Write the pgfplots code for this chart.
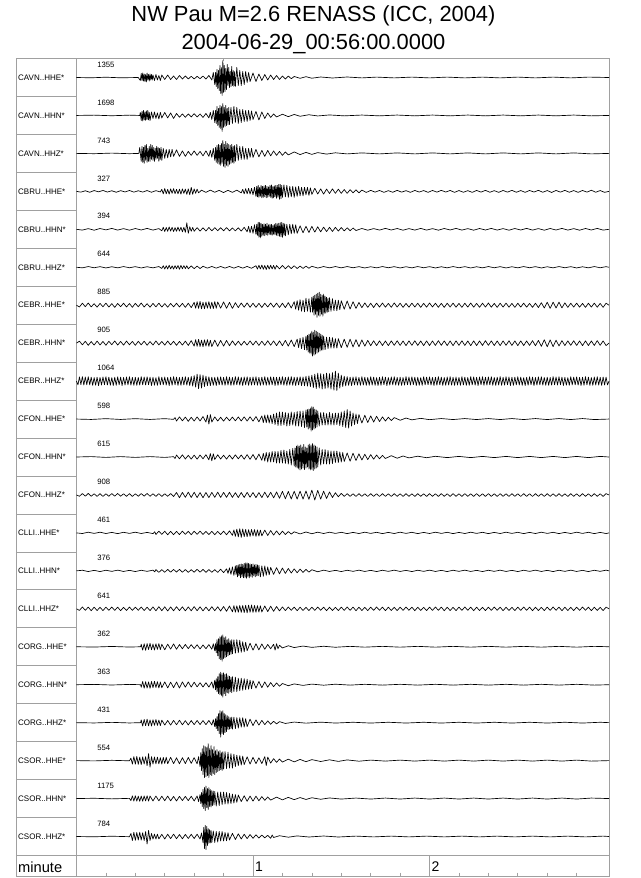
\documentclass[border=0pt]{standalone}
\usepackage{pgfplots}
\pgfplotsset{compat=1.18}
\usepackage{fontspec}
\setmainfont{Liberation Sans}
\definecolor{framegray}{RGB}{160,160,160}
\tikzset{tr/.style={black,line width=0.5pt,mark=none,line join=round}}
\newcommand{\lab}[3]{\node[anchor=west,inner sep=0pt,font=\fontsize{6}{7}\selectfont] at (axis cs:-19.9,#1) {#2};
\node[anchor=west,inner sep=0pt,font=\fontsize{5.8}{7}\selectfont] at (axis cs:7,#1-13) {#3};}
\begin{document}
\begin{tikzpicture}
\useasboundingbox (-12pt,-0.975pt) rectangle (468pt,657.525pt);
\node[anchor=base,font=\fontsize{16.4}{19}\selectfont] at (223.1pt,641.4pt) {NW Pau M=2.6 RENASS (ICC, 2004)};
\node[anchor=base,font=\fontsize{16.4}{19}\selectfont] at (223.1pt,620.4pt) {2004-06-29\_00:56:00.0000};
\begin{axis}[at={(0,0)},anchor=south west,scale only axis,width=444.75pt,height=613.65pt,
xmin=-20.56,xmax=181,ymin=58.5,ymax=876.7,y dir=reverse,enlargelimits=false,
xtick=\empty,ytick=\empty,axis line style={draw=framegray,line width=0.5pt},clip=false]
% frame decorations
\draw[framegray,line width=0.5pt] (axis cs:0,58.5) -- (axis cs:0,876.7);
\draw[framegray,line width=0.5pt] (axis cs:-20.56,855.45) -- (axis cs:181,855.45);
\draw[framegray,line width=0.5pt]
 (axis cs:-20.56,96.45) -- (axis cs:0,96.45) (axis cs:-20.56,134.4) -- (axis cs:0,134.4)
 (axis cs:-20.56,172.35) -- (axis cs:0,172.35) (axis cs:-20.56,210.3) -- (axis cs:0,210.3)
 (axis cs:-20.56,248.25) -- (axis cs:0,248.25) (axis cs:-20.56,286.2) -- (axis cs:0,286.2)
 (axis cs:-20.56,324.15) -- (axis cs:0,324.15) (axis cs:-20.56,362.1) -- (axis cs:0,362.1)
 (axis cs:-20.56,400.05) -- (axis cs:0,400.05) (axis cs:-20.56,438) -- (axis cs:0,438)
 (axis cs:-20.56,475.95) -- (axis cs:0,475.95) (axis cs:-20.56,513.9) -- (axis cs:0,513.9)
 (axis cs:-20.56,551.85) -- (axis cs:0,551.85) (axis cs:-20.56,589.8) -- (axis cs:0,589.8)
 (axis cs:-20.56,627.75) -- (axis cs:0,627.75) (axis cs:-20.56,665.7) -- (axis cs:0,665.7)
 (axis cs:-20.56,703.65) -- (axis cs:0,703.65) (axis cs:-20.56,741.6) -- (axis cs:0,741.6)
 (axis cs:-20.56,779.55) -- (axis cs:0,779.55) (axis cs:-20.56,817.5) -- (axis cs:0,817.5);
\draw[framegray,line width=0.5pt] (axis cs:50,58.5) -- (axis cs:50,61.5);
\draw[framegray,line width=0.5pt] (axis cs:60,855.45) -- (axis cs:60,876.7) (axis cs:120,855.45) -- (axis cs:120,876.7)
 (axis cs:10,872.7) -- (axis cs:10,876.7) (axis cs:20,872.7) -- (axis cs:20,876.7) (axis cs:30,872.7) -- (axis cs:30,876.7)
 (axis cs:40,872.7) -- (axis cs:40,876.7) (axis cs:50,872.7) -- (axis cs:50,876.7) (axis cs:70,872.7) -- (axis cs:70,876.7)
 (axis cs:80,872.7) -- (axis cs:80,876.7) (axis cs:90,872.7) -- (axis cs:90,876.7) (axis cs:100,872.7) -- (axis cs:100,876.7)
 (axis cs:110,872.7) -- (axis cs:110,876.7) (axis cs:130,872.7) -- (axis cs:130,876.7) (axis cs:140,872.7) -- (axis cs:140,876.7)
 (axis cs:150,872.7) -- (axis cs:150,876.7) (axis cs:160,872.7) -- (axis cs:160,876.7) (axis cs:170,872.7) -- (axis cs:170,876.7);
\node[anchor=west,inner sep=0pt,font=\fontsize{11}{13}\selectfont] at (axis cs:-19.9,867) {minute};
\node[anchor=west,inner sep=0pt,font=\fontsize{10.5}{12}\selectfont] at (axis cs:60.6,866.5) {1};
\node[anchor=west,inner sep=0pt,font=\fontsize{10.5}{12}\selectfont] at (axis cs:120.6,866.5) {2};
% labels
\lab{77.5}{CAVN..HHE*}{1355}
\lab{115.45}{CAVN..HHN*}{1698}
\lab{153.4}{CAVN..HHZ*}{743}
\lab{191.35}{CBRU..HHE*}{327}
\lab{229.3}{CBRU..HHN*}{394}
\lab{267.25}{CBRU..HHZ*}{644}
\lab{305.2}{CEBR..HHE*}{885}
\lab{343.15}{CEBR..HHN*}{905}
\lab{381.1}{CEBR..HHZ*}{1064}
\lab{419.05}{CFON..HHE*}{598}
\lab{457}{CFON..HHN*}{615}
\lab{494.95}{CFON..HHZ*}{908}
\lab{532.9}{CLLI..HHE*}{461}
\lab{570.85}{CLLI..HHN*}{376}
\lab{608.8}{CLLI..HHZ*}{641}
\lab{646.75}{CORG..HHE*}{362}
\lab{684.7}{CORG..HHN*}{363}
\lab{722.65}{CORG..HHZ*}{431}
\lab{760.6}{CSOR..HHE*}{554}
\lab{798.55}{CSOR..HHN*}{1175}
\lab{836.5}{CSOR..HHZ*}{784}
% T1 CAVN HHE
\addplot[tr] table[row sep=\\,y expr=\thisrow{y}+77.5]{x y\\ 0 0\\ 5 0.3\\ 10 -0.3\\ 15 0.3\\ 21 0\\ 21.7 3\\ 22 -4\\ 22.25 3\\ 22.5 -4.5\\ 22.75 3.5\\ 23 -3.5\\ 23.25 4\\ 23.5 -3\\ 23.75 4.5\\ 24 -4.5\\ 24.25 2.5\\ 24.5 -3\\ 24.75 3.5\\ 25 -3.5\\ 25.25 2.5\\ 25.5 -3\\ 25.75 2.5\\ 26 -2.5\\ 26.5 3\\ 27 -3\\ 27.5 2.5\\ 28 -2\\ 28.5 3\\ 29 -2.5\\ 30 2\\ 31 -2.5\\ 32 2\\ 33 -1.5\\ 34 2\\ 35 -2\\ 36 1.5\\ 37 -1.5\\ 38 1.5\\ 39 -1.2\\ 40 1.5\\ 41 -1.2\\ 42 1.2\\ 43 -1.5\\ 44 1.5\\ 45 -2\\ 46 2.5\\ 46.5 -5\\ 47 7\\ 47.25 -5\\ 47.5 9\\ 47.75 -8\\ 48 11\\ 48.25 -7\\ 48.5 13\\ 48.75 -12\\ 49 16\\ 49.25 -10\\ 49.5 18\\ 49.75 -17\\ 50 15\\ 50.25 -12\\ 50.5 14\\ 50.75 -9\\ 51 12\\ 51.25 -13\\ 51.5 8\\ 51.75 -10\\ 52 10\\ 52.25 -6\\ 52.5 9\\ 52.75 -11\\ 53 8\\ 53.25 -7\\ 53.5 9\\ 53.75 -6\\ 54 9\\ 54.5 -10\\ 55 8\\ 55.5 -7\\ 56 8\\ 56.5 -6\\ 57 7\\ 57.5 -6\\ 58 5\\ 58.5 -5\\ 59 4\\ 60 -4.5\\ 61 4\\ 62 -3.5\\ 63 3\\ 64 -3\\ 65 2.5\\ 66 -2.5\\ 67 2\\ 68 -2\\ 69 2\\ 70 -1.5\\ 71 1.5\\ 72 -1.5\\ 73 1.2\\ 74 -1\\ 76 0.8\\ 78 -0.8\\ 80 0.7\\ 83 -0.5\\ 87 0.5\\ 92 -0.5\\ 97 0.4\\ 102 -0.4\\ 108 0.4\\ 114 -0.4\\ 120 0.4\\ 126 -0.4\\ 132 0.4\\ 138 -0.4\\ 144 0.4\\ 150 -0.4\\ 156 0.4\\ 162 -0.4\\ 168 0.4\\ 174 -0.4\\ 181 0\\};
% T2 CAVN HHN
\addplot[tr] table[row sep=\\,y expr=\thisrow{y}+115.45]{x y\\ 0 0\\ 6 -0.3\\ 12 0.3\\ 18 -0.3\\ 21.5 0\\ 21.7 -3\\ 22 5\\ 22.25 -4\\ 22.5 5.5\\ 22.75 -5\\ 23 4.5\\ 23.25 -3.5\\ 23.5 5\\ 23.75 -4.5\\ 24 4\\ 24.25 -5\\ 24.5 4.5\\ 24.75 -3\\ 25 5\\ 25.5 -3.5\\ 26 3\\ 26.5 -3.5\\ 27 3\\ 27.5 -2.5\\ 28 3.5\\ 28.5 -3\\ 29 2.5\\ 30 -3\\ 31 2.5\\ 32 -2.5\\ 33 3\\ 34 -2\\ 35 1.8\\ 36 -1.5\\ 37 1.8\\ 38 -1.5\\ 39 1.5\\ 40 -1.8\\ 41 1.5\\ 42 -1.5\\ 43 2\\ 44 -2\\ 45 2.5\\ 45.5 -3\\ 46 4\\ 46.5 -5\\ 47 7\\ 47.25 -5\\ 47.5 8\\ 47.75 -9\\ 48 10\\ 48.25 -7\\ 48.5 12\\ 48.75 -10\\ 49 13\\ 49.25 -9\\ 49.5 16\\ 49.75 -12\\ 50 12\\ 50.25 -8\\ 50.5 11\\ 50.75 -10\\ 51 10\\ 51.25 -7\\ 51.5 9\\ 51.75 -8\\ 52 9\\ 52.5 -8\\ 53 8\\ 53.5 -9\\ 54 7\\ 54.5 -8\\ 55 8\\ 55.5 -6\\ 56 7\\ 56.5 -6\\ 57 6\\ 57.5 -5\\ 58 6\\ 58.5 -5\\ 59 5\\ 59.5 -4.5\\ 60 4\\ 61 -4\\ 62 4.5\\ 63 -3.5\\ 64 3\\ 65 -2.5\\ 66 2\\ 67 -1.5\\ 68 1.5\\ 70 -1.2\\ 72 1.2\\ 74 -1\\ 76 0.8\\ 79 -0.7\\ 82 0.5\\ 86 -0.5\\ 91 0.4\\ 97 -0.4\\ 103 0.4\\ 109 -0.4\\ 115 0.4\\ 121 -0.4\\ 127 0.4\\ 133 -0.4\\ 139 0.4\\ 145 -0.4\\ 151 0.4\\ 157 -0.4\\ 163 0.4\\ 169 -0.4\\ 175 0.4\\ 181 0\\};
% T3 CAVN HHZ
\addplot[tr] table[row sep=\\,y expr=\thisrow{y}+153.4]{x y\\ 0 0\\ 6 0.3\\ 12 -0.3\\ 18 0.3\\ 21.2 0\\ 21.5 -6\\ 22 8\\ 22.25 -7\\ 22.5 9\\ 22.75 -6\\ 23 10\\ 23.25 -8\\ 23.5 7\\ 23.75 -9\\ 24 9\\ 24.25 -5\\ 24.5 8\\ 24.75 -7\\ 25 8\\ 25.25 -9\\ 25.5 6\\ 25.75 -8\\ 26 7\\ 26.25 -6\\ 26.5 8\\ 26.75 -5\\ 27 6\\ 27.25 -7\\ 27.5 5\\ 27.75 -6\\ 28 8\\ 28.25 -5\\ 28.5 6\\ 28.75 -6\\ 29 7\\ 29.5 -5\\ 30 5\\ 30.5 -4\\ 31 4.5\\ 31.5 -4\\ 32 3.5\\ 32.5 -4\\ 33 3\\ 34 -3.5\\ 35 3\\ 36 -2.5\\ 37 3\\ 38 -2\\ 39 2\\ 40 -2.5\\ 41 2\\ 42 -2\\ 43 2.5\\ 44 -2.5\\ 45 3\\ 45.5 -3\\ 46 4\\ 46.5 -5\\ 47 7\\ 47.25 -6\\ 47.5 9\\ 47.75 -8\\ 48 10\\ 48.25 -9\\ 48.5 11\\ 48.75 -8\\ 49 12\\ 49.25 -10\\ 49.5 10\\ 49.75 -13\\ 50 13\\ 50.25 -9\\ 50.5 14\\ 50.75 -12\\ 51 12\\ 51.25 -10\\ 51.5 13\\ 51.75 -9\\ 52 11\\ 52.25 -8\\ 52.5 10\\ 52.75 -9\\ 53 9\\ 53.25 -7\\ 53.5 10\\ 53.75 -8\\ 54 8\\ 54.5 -9\\ 55 7\\ 55.5 -7\\ 56 6\\ 56.5 -7\\ 57 6\\ 57.5 -5\\ 58 6\\ 58.5 -5\\ 59 4\\ 59.5 -5\\ 60 4\\ 61 -4\\ 62 3.5\\ 63 -3\\ 64 3\\ 65 -3\\ 66 2.5\\ 67 -2.5\\ 68 2\\ 69 -2\\ 70 2\\ 71 -1.5\\ 72 1.5\\ 74 -1.5\\ 76 1.2\\ 78 -1\\ 80 1\\ 82 -0.8\\ 85 0.7\\ 88 -0.6\\ 92 0.5\\ 97 -0.5\\ 103 0.5\\ 109 -0.5\\ 115 0.5\\ 121 -0.5\\ 127 0.5\\ 133 -0.5\\ 139 0.5\\ 145 -0.5\\ 151 0.5\\ 157 -0.5\\ 163 0.5\\ 169 -0.5\\ 175 0.5\\ 181 0\\};
% T4 CBRU HHE
\addplot[tr] table[row sep=\\,y expr=\thisrow{y}+191.35]{x y\\ 0 0\\ 1.5 0.8\\ 3 -0.6\\ 4.5 0.9\\ 6 -0.8\\ 7.5 0.5\\ 9 -0.9\\ 10.5 0.7\\ 12 -0.6\\ 13.5 0.9\\ 15 -0.7\\ 16.5 0.6\\ 18 -0.9\\ 19.5 0.8\\ 21 -0.6\\ 22.5 0.7\\ 24 -0.8\\ 25.5 0.9\\ 27 -0.7\\ 28.5 0.6\\ 29 -2\\ 29.5 2.5\\ 30 -2.8\\ 30.5 2.5\\ 31 -2\\ 31.5 2.8\\ 32 -2.5\\ 32.5 2\\ 33 -2.7\\ 33.5 2.3\\ 34 -2\\ 34.5 2.5\\ 35 -2.2\\ 35.5 2.8\\ 36 -2.5\\ 36.5 2\\ 37 -2.3\\ 37.5 3\\ 38 -2.5\\ 38.5 3.5\\ 39 -4\\ 39.5 3\\ 40 -2.5\\ 40.5 2\\ 41 -2.2\\ 41.5 1.5\\ 42.5 -1.2\\ 44 1\\ 45.5 -1.2\\ 47 0.9\\ 48.5 -1\\ 50 1.2\\ 51.5 -1\\ 53 1\\ 54.5 -1.2\\ 56 1.5\\ 56.5 -2\\ 57 2.5\\ 57.5 -2.7\\ 58 2.5\\ 58.5 -3\\ 59 2.8\\ 59.5 -3\\ 60 3.5\\ 60.5 -4\\ 61 5\\ 61.25 -5\\ 61.5 5.5\\ 61.75 -6\\ 62 6\\ 62.25 -4\\ 62.5 5\\ 62.75 -6\\ 63 6.5\\ 63.25 -5\\ 63.5 6\\ 63.75 -5.5\\ 64 5.5\\ 64.25 -6\\ 64.5 6.5\\ 64.75 -5\\ 65 6\\ 65.25 -4.5\\ 65.5 5\\ 65.75 -6\\ 66 6\\ 66.25 -6.5\\ 66.5 7\\ 66.75 -5\\ 67 6.5\\ 67.25 -5.5\\ 67.5 5.5\\ 67.75 -6\\ 68 7\\ 68.25 -6\\ 68.5 6\\ 68.75 -7\\ 69 8\\ 69.25 -7\\ 69.5 7.5\\ 69.75 -6\\ 70 6\\ 70.5 -6.5\\ 71 5.5\\ 71.5 -6\\ 72 6\\ 72.5 -5\\ 73 5.5\\ 73.5 -5\\ 74 6\\ 74.5 -4.5\\ 75 5\\ 75.5 -5\\ 76 4.5\\ 76.5 -4\\ 77 4.5\\ 77.5 -4\\ 78 3.5\\ 78.5 -4\\ 79 4\\ 79.5 -3.5\\ 80 3\\ 81 -3\\ 82 2.7\\ 83 -2.5\\ 84 2.8\\ 85 -2.3\\ 86 2.2\\ 87 -2.5\\ 88 2\\ 89 -2.2\\ 90 2\\ 91 -1.8\\ 92 2\\ 93 -1.7\\ 94 1.5\\ 95 -1.6\\ 96 1.5\\ 97 -1.3\\ 98.5 1.1\\ 100 -1\\ 101.5 0.8\\ 103 -0.9\\ 104.5 1\\ 106 -0.7\\ 107.5 0.9\\ 109 -1\\ 110.5 0.8\\ 112 -0.7\\ 113.5 1\\ 115 -0.9\\ 116.5 0.7\\ 118 -0.8\\ 119.5 1\\ 121 -0.9\\ 122.5 0.8\\ 124 -1\\ 125.5 0.7\\ 127 -0.9\\ 128.5 1\\ 130 -0.8\\ 131.5 0.9\\ 133 -0.7\\ 134.5 1\\ 136 -0.9\\ 137.5 0.8\\ 139 -1\\ 140.5 0.9\\ 142 -0.7\\ 143.5 1\\ 145 -0.9\\ 146.5 0.8\\ 148 -1\\ 149.5 0.9\\ 151 -0.8\\ 152.5 1\\ 154 -0.9\\ 155.5 0.7\\ 157 -1\\ 158.5 0.9\\ 160 -0.8\\ 161.5 1.1\\ 163 -0.9\\ 164.5 0.8\\ 166 -1\\ 167.5 0.9\\ 169 -0.8\\ 170.5 1\\ 172 -0.9\\ 173.5 0.8\\ 175 -1.1\\ 176.5 0.9\\ 178 -0.8\\ 179.5 1\\ 181 0\\};
% T5 CBRU HHN
\addplot[tr] table[row sep=\\,y expr=\thisrow{y}+229.3]{x y\\ 0 0\\ 2 0.8\\ 4 -0.7\\ 6 0.9\\ 8 -0.8\\ 10 0.6\\ 12 -0.9\\ 14 0.8\\ 16 -0.7\\ 18 0.9\\ 20 -0.8\\ 22 0.7\\ 24 -0.9\\ 26 0.8\\ 28 -0.7\\ 29 1.5\\ 29.5 -2\\ 30 2.2\\ 30.5 -1.8\\ 31 2\\ 31.5 -2.3\\ 32 1.8\\ 32.5 -2\\ 33 2.2\\ 33.5 -1.7\\ 34 2\\ 34.5 -2.2\\ 35 1.8\\ 35.5 -2\\ 36 2.5\\ 36.5 -2\\ 37 3\\ 37.5 -6.5\\ 38 4\\ 38.5 -2.5\\ 39 2\\ 39.5 -1.8\\ 40 2\\ 41 -1.7\\ 42 1.8\\ 43 -1.5\\ 44 1.7\\ 45 -1.8\\ 46 1.5\\ 47 -1.6\\ 48 1.4\\ 49 -1.6\\ 50 1.5\\ 51 -1.7\\ 52 1.5\\ 53 -1.4\\ 54 1.6\\ 55 -1.5\\ 56 1.8\\ 57 -2\\ 58 2.5\\ 58.5 -3\\ 59 3.5\\ 59.5 -3\\ 60 4\\ 60.5 -4.5\\ 61 5\\ 61.25 -5\\ 61.5 6\\ 61.75 -7\\ 62 8\\ 62.25 -7\\ 62.5 8.5\\ 62.75 -6\\ 63 7\\ 63.25 -5\\ 63.5 6\\ 63.75 -5.5\\ 64 6.5\\ 64.25 -5\\ 64.5 5.5\\ 64.75 -6\\ 65 6\\ 65.25 -4.5\\ 65.5 5\\ 65.75 -5\\ 66 5.5\\ 66.25 -5\\ 66.5 6\\ 66.75 -4\\ 67 5\\ 67.25 -5\\ 67.5 5.5\\ 67.75 -6\\ 68 6\\ 68.25 -5.5\\ 68.5 6.5\\ 68.75 -6\\ 69 7\\ 69.25 -6.5\\ 69.5 7.5\\ 69.75 -7\\ 70 8\\ 70.25 -6\\ 70.5 6\\ 70.75 -5.5\\ 71 6.5\\ 71.5 -5\\ 72 5.5\\ 72.5 -5\\ 73 4.5\\ 73.5 -5\\ 74 4\\ 74.5 -4.5\\ 75 4\\ 76 -3.5\\ 77 3.5\\ 78 -3\\ 79 3.2\\ 80 -3\\ 81 2.8\\ 82 -2.5\\ 83 2.6\\ 84 -2.2\\ 85 2.3\\ 86 -2\\ 87 2.2\\ 88 -2\\ 89 1.8\\ 90 -1.8\\ 91 1.6\\ 92 -1.5\\ 93 1.5\\ 94 -1.3\\ 95 1.2\\ 97 -0.8\\ 99 0.9\\ 101 -0.7\\ 103 0.8\\ 105 -0.9\\ 107 0.7\\ 109 -0.8\\ 111 0.9\\ 113 -0.7\\ 115 0.8\\ 117 -0.9\\ 119 0.8\\ 121 -0.7\\ 123 0.9\\ 125 -0.8\\ 127 0.7\\ 129 -0.9\\ 131 0.8\\ 133 -0.7\\ 135 0.9\\ 137 -0.8\\ 139 0.7\\ 141 -0.9\\ 143 0.8\\ 145 -0.7\\ 147 0.9\\ 149 -0.8\\ 151 0.7\\ 153 -0.9\\ 155 0.8\\ 157 -0.7\\ 159 0.9\\ 161 -0.8\\ 163 0.7\\ 165 -0.9\\ 167 0.8\\ 169 -0.7\\ 171 0.9\\ 173 -0.8\\ 175 0.7\\ 177 -0.9\\ 179 0.8\\ 181 0\\};
% T6 CBRU HHZ
\addplot[tr] table[row sep=\\,y expr=\thisrow{y}+267.25]{x y\\ 0 0\\ 2 0.6\\ 4 -0.7\\ 6 0.5\\ 8 -0.6\\ 10 0.7\\ 12 -0.5\\ 14 0.6\\ 16 -0.7\\ 18 0.5\\ 20 -0.6\\ 22 0.7\\ 24 -0.5\\ 26 0.6\\ 28 -0.7\\ 29 1.2\\ 29.5 -1.5\\ 30 1.8\\ 30.5 -1.5\\ 31 1.7\\ 31.5 -2\\ 32 1.6\\ 32.5 -1.4\\ 33 1.8\\ 33.5 -1.6\\ 34 1.5\\ 34.5 -1.7\\ 35 2\\ 35.5 -1.8\\ 36 1.5\\ 36.5 -1.6\\ 37 1.4\\ 37.5 -1.5\\ 38 1.6\\ 39 -1.3\\ 40 1.4\\ 41 -1.2\\ 42 1.3\\ 43 -1\\ 44.5 0.9\\ 46 -0.8\\ 47.5 0.9\\ 49 -0.8\\ 50.5 0.9\\ 52 -0.8\\ 53.5 0.9\\ 55 -0.8\\ 56.5 0.9\\ 58 -0.8\\ 59.5 1\\ 61 -1.5\\ 61.5 1.8\\ 62 -2\\ 62.5 1.7\\ 63 -2.2\\ 63.5 2\\ 64 -1.8\\ 64.5 2.2\\ 65 -2\\ 65.5 1.8\\ 66 -2\\ 66.5 1.7\\ 67 -1.8\\ 67.5 2\\ 68 -1.7\\ 69 1.6\\ 70 -1.8\\ 71 1.5\\ 72 -1.6\\ 73 1.4\\ 74 -1.5\\ 75 1.3\\ 76 -1.2\\ 77 1.2\\ 78 -1.1\\ 79 1\\ 80 -1\\ 82 0.8\\ 84 -0.7\\ 86 0.6\\ 88 -0.7\\ 90 0.6\\ 92 -0.7\\ 94 0.5\\ 96 -0.6\\ 98 0.7\\ 100 -0.5\\ 102 0.6\\ 104 -0.7\\ 106 0.5\\ 108 -0.6\\ 110 0.7\\ 112 -0.5\\ 114 0.6\\ 116 -0.7\\ 118 0.5\\ 120 -0.6\\ 122 0.7\\ 124 -0.5\\ 126 0.6\\ 128 -0.7\\ 130 0.5\\ 132 -0.6\\ 134 0.7\\ 136 -0.5\\ 138 0.6\\ 140 -0.7\\ 142 0.5\\ 144 -0.6\\ 146 0.7\\ 148 -0.5\\ 150 0.6\\ 152 -0.7\\ 154 0.5\\ 156 -0.6\\ 158 0.7\\ 160 -0.5\\ 162 0.6\\ 164 -0.7\\ 166 0.5\\ 168 -0.6\\ 170 0.7\\ 172 -0.5\\ 174 0.6\\ 176 -0.7\\ 178 0.5\\ 180 -0.6\\ 181 0\\};
% T7 CEBR HHE
\addplot[tr] table[row sep=\\,y expr=\thisrow{y}+305.2]{x y\\ 0 0\\ 1 1.8\\ 2 -2\\ 3 1.5\\ 4 -2.2\\ 5 1.7\\ 6 -1.5\\ 7 2\\ 8 -1.8\\ 9 1.6\\ 10 -2.1\\ 11 1.9\\ 12 -1.6\\ 13 2.2\\ 14 -1.8\\ 15 1.5\\ 16 -2\\ 17 1.8\\ 18 -1.7\\ 19 2.1\\ 20 -1.9\\ 21 1.6\\ 22 -2.2\\ 23 1.8\\ 24 -1.5\\ 25 2\\ 26 -1.8\\ 27 1.7\\ 28 -2.1\\ 29 1.9\\ 30 -1.6\\ 31 2\\ 32 -1.8\\ 33 1.7\\ 34 -2\\ 35 1.8\\ 36 -1.9\\ 37 2.2\\ 38 -2\\ 39 2.4\\ 40 -2.8\\ 40.5 3\\ 41 -3.5\\ 41.5 3.2\\ 42 -3.8\\ 42.5 3.5\\ 43 -3\\ 43.5 3.6\\ 44 -3.2\\ 44.5 3\\ 45 -3.5\\ 45.5 3.3\\ 46 -3\\ 46.5 3.4\\ 47 -3.6\\ 47.5 3\\ 48 -3.2\\ 49 3\\ 50 -3.3\\ 51 3\\ 52 -2.8\\ 53 3.2\\ 54 -2.5\\ 55 2.4\\ 56 -2.2\\ 57 2\\ 58 -2.3\\ 59 2.1\\ 60 -2\\ 61 2.2\\ 62 -1.9\\ 63 2.3\\ 64 -2\\ 65 1.8\\ 66 -2.2\\ 67 2\\ 68 -2.1\\ 69 2.3\\ 70 -2\\ 71 2.4\\ 72 -2.6\\ 73 2.8\\ 74 -3.5\\ 74.5 4\\ 75 -4.5\\ 75.5 5\\ 76 -5.5\\ 76.5 6\\ 77 -5\\ 77.5 6.5\\ 78 -7\\ 78.5 6\\ 79 -6.5\\ 79.5 7\\ 80 -8\\ 80.25 7\\ 80.5 -9\\ 80.75 10\\ 81 -10\\ 81.25 9\\ 81.5 -11\\ 81.75 12\\ 82 -12\\ 82.25 10\\ 82.5 -13\\ 82.75 11\\ 83 -11\\ 83.25 9\\ 83.5 -10\\ 83.75 11\\ 84 -11\\ 84.25 8\\ 84.5 -9\\ 84.75 8\\ 85 -8\\ 85.25 7\\ 85.5 -7\\ 85.75 6.5\\ 86 -7.5\\ 86.5 6\\ 87 -6.5\\ 87.5 5.5\\ 88 -5\\ 88.5 5.5\\ 89 -5\\ 89.5 4.5\\ 90 -4.5\\ 91 4\\ 92 -4.2\\ 93 3.8\\ 94 -3.5\\ 95 3.2\\ 96 -2.8\\ 97 2.5\\ 98 -2.3\\ 99 2.2\\ 100 -2\\ 101 2.3\\ 102 -2.1\\ 103 1.9\\ 104 -2.2\\ 105 2\\ 106 -1.8\\ 107 2.1\\ 108 -2.3\\ 109 1.9\\ 110 -2\\ 111 2.2\\ 112 -1.8\\ 113 2\\ 114 -2.1\\ 115 1.8\\ 116 -2\\ 117 2.2\\ 118 -1.9\\ 119 2\\ 120 -2.2\\ 121 1.8\\ 122 -2\\ 123 2.1\\ 124 -1.9\\ 125 2.2\\ 126 -2\\ 127 1.8\\ 128 -2.1\\ 129 2\\ 130 -1.8\\ 131 2.2\\ 132 -2\\ 133 1.9\\ 134 -2.2\\ 135 2\\ 136 -1.8\\ 137 2.1\\ 138 -2\\ 139 1.9\\ 140 -2.2\\ 141 2\\ 142 -1.8\\ 143 2.2\\ 144 -2\\ 145 1.9\\ 146 -2.1\\ 147 2\\ 148 -1.8\\ 149 2.2\\ 150 -2\\ 151 1.9\\ 152 -2.1\\ 153 2\\ 154 -1.8\\ 155 2.2\\ 156 -2\\ 157 2.3\\ 158 -2.5\\ 159 2.8\\ 160 -3\\ 161 3.2\\ 162 -3\\ 163 2.8\\ 164 -3.1\\ 165 2.7\\ 166 -2.4\\ 167 2.2\\ 168 -2\\ 169 1.9\\ 170 -2.1\\ 171 2\\ 172 -1.8\\ 173 2.2\\ 174 -2\\ 175 1.9\\ 176 -2.1\\ 177 2\\ 178 -1.8\\ 179 2.1\\ 180 -2\\ 181 0\\};
% T8 CEBR HHN
\addplot[tr] table[row sep=\\,y expr=\thisrow{y}+343.15]{x y\\ 0 0\\ 1 -2\\ 2 1.7\\ 3 -1.9\\ 4 2.2\\ 5 -1.6\\ 6 2\\ 7 -2.1\\ 8 1.8\\ 9 -1.7\\ 10 2.1\\ 11 -1.9\\ 12 1.6\\ 13 -2.2\\ 14 1.9\\ 15 -1.7\\ 16 2\\ 17 -2.1\\ 18 1.7\\ 19 -1.8\\ 20 2.2\\ 21 -1.9\\ 22 1.7\\ 23 -2\\ 24 2.1\\ 25 -1.6\\ 26 1.9\\ 27 -2.2\\ 28 1.8\\ 29 -1.7\\ 30 2\\ 31 -2.1\\ 32 1.8\\ 33 -1.9\\ 34 2.2\\ 35 -1.8\\ 36 2\\ 37 -2.1\\ 38 2.3\\ 39 -2.5\\ 40 3\\ 40.5 -3.5\\ 41 3.2\\ 41.5 -3.8\\ 42 3.4\\ 42.5 -3\\ 43 3.6\\ 43.5 -3.3\\ 44 3\\ 44.5 -3.5\\ 45 3.2\\ 45.5 -2.9\\ 46 3.4\\ 47 -3\\ 48 3.2\\ 49 -2.8\\ 50 3\\ 51 -2.7\\ 52 2.6\\ 53 -2.3\\ 54 2.1\\ 55 -2\\ 56 2.2\\ 57 -1.9\\ 58 2\\ 59 -2.2\\ 60 1.9\\ 61 -2.1\\ 62 2.3\\ 63 -2\\ 64 2.2\\ 65 -2.4\\ 66 2.1\\ 67 -2.3\\ 68 2.5\\ 69 -2.3\\ 70 2.6\\ 71 -2.8\\ 72 3\\ 73 -3.2\\ 74 3.5\\ 75 -4\\ 75.5 4.5\\ 76 -5\\ 76.5 5.5\\ 77 -6\\ 77.5 6.5\\ 78 -7\\ 78.25 7\\ 78.5 -8\\ 78.75 9\\ 79 -9\\ 79.25 10\\ 79.5 -10\\ 79.75 11\\ 80 -12\\ 80.25 13\\ 80.5 -11\\ 80.75 12\\ 81 -13\\ 81.25 11\\ 81.5 -12\\ 81.75 10\\ 82 -11\\ 82.25 9\\ 82.5 -10\\ 82.75 8\\ 83 -9\\ 83.25 7\\ 83.5 -8\\ 83.75 7\\ 84 -7\\ 84.5 6.5\\ 85 -6\\ 85.5 5.5\\ 86 -6\\ 86.5 5\\ 87 -5.5\\ 87.5 5\\ 88 -4.5\\ 88.5 5\\ 89 -4.5\\ 90 4.5\\ 91 -4\\ 92 4.2\\ 93 -4\\ 94 3.8\\ 95 -3.5\\ 96 3.6\\ 97 -3.2\\ 98 3\\ 99 -2.8\\ 100 2.6\\ 101 -2.4\\ 102 2.5\\ 103 -2.3\\ 104 2.4\\ 105 -2.2\\ 106 2.5\\ 107 -2.3\\ 108 2.2\\ 109 -2.4\\ 110 2.3\\ 111 -2.2\\ 112 2.5\\ 113 -2.3\\ 114 2.2\\ 115 -2.4\\ 116 2.3\\ 117 -2.2\\ 118 2.5\\ 119 -2.3\\ 120 2.4\\ 121 -2.2\\ 122 2.3\\ 123 -2.5\\ 124 2.2\\ 125 -2.3\\ 126 2.4\\ 127 -2.2\\ 128 2.5\\ 129 -2.3\\ 130 2.2\\ 131 -2.4\\ 132 2.3\\ 133 -2.2\\ 134 2.5\\ 135 -2.3\\ 136 2.4\\ 137 -2.2\\ 138 2.3\\ 139 -2.5\\ 140 2.2\\ 141 -2.3\\ 142 2.4\\ 143 -2.2\\ 144 2.5\\ 145 -2.3\\ 146 2.2\\ 147 -2.4\\ 148 2.3\\ 149 -2.2\\ 150 2.5\\ 151 -2.3\\ 152 2.4\\ 153 -2.2\\ 154 2.3\\ 155 -2.5\\ 156 2.6\\ 157 -2.8\\ 158 3.2\\ 159 -3.4\\ 160 3.6\\ 161 -3.3\\ 162 3.5\\ 163 -3\\ 164 2.8\\ 165 -2.5\\ 166 2.4\\ 167 -2.3\\ 168 2.2\\ 169 -2.4\\ 170 2.3\\ 171 -2.2\\ 172 2.5\\ 173 -2.3\\ 174 2.4\\ 175 -2.2\\ 176 2.3\\ 177 -2.5\\ 178 2.2\\ 179 -2.3\\ 180 2.4\\ 181 0\\};
% T9 CEBR HHZ
\addplot[tr] table[row sep=\\,y expr=\thisrow{y}+381.1]{x y\\ 0 0\\ 0.5 3.8\\ 1 -4.2\\ 1.5 3.5\\ 2 -4.5\\ 2.5 3.9\\ 3 -4.1\\ 3.5 3.6\\ 4 -4.4\\ 4.5 3.8\\ 5 -4\\ 5.5 4.3\\ 6 -3.6\\ 6.5 4.1\\ 7 -3.9\\ 7.5 4.5\\ 8 -3.7\\ 8.5 4\\ 9 -4.2\\ 9.5 3.6\\
10 -4.4\\ 10.5 3.9\\ 11 -4\\ 11.5 4.2\\ 12 -3.5\\ 12.5 4.4\\ 13 -3.8\\ 13.5 4.1\\ 14 -4.3\\ 14.5 3.7\\ 15 -4\\ 15.5 4.5\\ 16 -3.6\\ 16.5 3.9\\ 17 -4.2\\ 17.5 3.8\\ 18 -4.4\\ 18.5 4\\ 19 -3.7\\ 19.5 4.2\\
20 -3.9\\ 20.5 4.3\\ 21 -3.6\\ 21.5 4\\ 22 -4.5\\ 22.5 3.7\\ 23 -4.1\\ 23.5 3.9\\ 24 -4.3\\ 24.5 3.6\\ 25 -4\\ 25.5 4.4\\ 26 -3.8\\ 26.5 4.1\\ 27 -3.5\\ 27.5 4.2\\ 28 -4.4\\ 28.5 3.8\\ 29 -4\\ 29.5 3.7\\
30 -4.2\\ 30.5 4\\ 31 -3.7\\ 31.5 4.4\\ 32 -3.9\\ 32.5 4.1\\ 33 -4.5\\ 33.5 3.8\\ 34 -4\\ 34.5 4.3\\ 35 -3.6\\ 35.5 4.2\\ 36 -4.1\\ 36.5 3.9\\ 37 -4.4\\ 37.5 4\\ 38 -3.8\\ 38.5 4.5\\ 39 -4.6\\ 39.5 5\\
40 -5.5\\ 40.5 6\\ 41 -7\\ 41.5 7.5\\ 42 -6.5\\ 42.5 7\\ 43 -6\\ 43.5 5.5\\ 44 -5\\ 44.5 4.6\\ 45 -4.3\\ 45.5 4.5\\ 46 -4\\ 46.5 4.2\\ 47 -3.9\\ 47.5 4.4\\ 48 -4.1\\ 48.5 3.8\\ 49 -4.3\\ 49.5 4\\
50 -3.7\\ 50.5 4.2\\ 51 -4.4\\ 51.5 3.9\\ 52 -4\\ 52.5 4.3\\ 53 -3.6\\ 53.5 4.1\\ 54 -4.5\\ 54.5 3.8\\ 55 -4.2\\ 55.5 4\\ 56 -3.8\\ 56.5 4.4\\ 57 -4.1\\ 57.5 3.7\\ 58 -4.3\\ 58.5 4.2\\ 59 -3.9\\ 59.5 4\\
60 -4.2\\ 60.5 3.8\\ 61 -4.4\\ 61.5 4.1\\ 62 -3.7\\ 62.5 4.3\\ 63 -4\\ 63.5 3.9\\ 64 -4.5\\ 64.5 4.2\\ 65 -3.8\\ 65.5 4\\ 66 -4.3\\ 66.5 3.7\\ 67 -4.1\\ 67.5 4.4\\ 68 -3.9\\ 68.5 4.2\\ 69 -4\\ 69.5 3.8\\
70 -4.4\\ 70.5 4.1\\ 71 -3.8\\ 71.5 4.3\\ 72 -4.2\\ 72.5 3.9\\ 73 -4.5\\ 73.5 4.2\\ 74 -4\\ 74.5 4.4\\ 75 -4.1\\ 75.5 3.9\\ 76 -4.3\\ 76.5 4.5\\ 77 -4.2\\ 77.5 4.6\\ 78 -4.8\\ 78.5 5\\ 79 -5.2\\ 79.5 5.5\\
80 -6\\ 80.5 6.5\\ 81 -7\\ 81.5 7.5\\ 82 -8\\ 82.5 7\\ 83 -7.5\\ 83.5 8\\ 84 -7\\ 84.5 7.5\\ 85 -8\\ 85.5 7\\ 86 -7.5\\ 86.5 8\\ 87 -8.5\\ 87.5 9\\ 88 -10\\ 88.5 9.5\\ 89 -8\\ 89.5 7\\
90 -6\\ 90.5 5.5\\ 91 -5\\ 91.5 4.8\\ 92 -4.5\\ 92.5 4.3\\ 93 -4\\ 93.5 4.4\\ 94 -4.1\\ 94.5 3.8\\ 95 -4.3\\ 95.5 4\\ 96 -3.7\\ 96.5 4.2\\ 97 -4.4\\ 97.5 3.9\\ 98 -4\\ 98.5 4.3\\ 99 -3.6\\ 99.5 4.1\\
100 -4.4\\ 100.5 3.9\\ 101 -4\\ 101.5 4.2\\ 102 -3.5\\ 102.5 4.4\\ 103 -3.8\\ 103.5 4.1\\ 104 -4.3\\ 104.5 3.7\\ 105 -4\\ 105.5 4.5\\ 106 -3.6\\ 106.5 3.9\\ 107 -4.2\\ 107.5 3.8\\ 108 -4.4\\ 108.5 4\\ 109 -3.7\\ 109.5 4.2\\
110 -3.9\\ 110.5 4.3\\ 111 -3.6\\ 111.5 4\\ 112 -4.5\\ 112.5 3.7\\ 113 -4.1\\ 113.5 3.9\\ 114 -4.3\\ 114.5 3.6\\ 115 -4\\ 115.5 4.4\\ 116 -3.8\\ 116.5 4.1\\ 117 -3.5\\ 117.5 4.2\\ 118 -4.4\\ 118.5 3.8\\ 119 -4\\ 119.5 3.7\\
120 -4.2\\ 120.5 4\\ 121 -3.7\\ 121.5 4.4\\ 122 -3.9\\ 122.5 4.1\\ 123 -4.5\\ 123.5 3.8\\ 124 -4\\ 124.5 4.3\\ 125 -3.6\\ 125.5 4.2\\ 126 -4.1\\ 126.5 3.9\\ 127 -4.4\\ 127.5 4\\ 128 -3.8\\ 128.5 4.3\\ 129 -4.1\\ 129.5 3.9\\
130 -3.7\\ 130.5 4.2\\ 131 -4.4\\ 131.5 3.9\\ 132 -4\\ 132.5 4.3\\ 133 -3.6\\ 133.5 4.1\\ 134 -4.5\\ 134.5 3.8\\ 135 -4.2\\ 135.5 4\\ 136 -3.8\\ 136.5 4.4\\ 137 -4.1\\ 137.5 3.7\\ 138 -4.3\\ 138.5 4.2\\ 139 -3.9\\ 139.5 4\\
140 -4.2\\ 140.5 3.8\\ 141 -4.4\\ 141.5 4.1\\ 142 -3.7\\ 142.5 4.3\\ 143 -4\\ 143.5 3.9\\ 144 -4.5\\ 144.5 4.2\\ 145 -3.8\\ 145.5 4\\ 146 -4.3\\ 146.5 3.7\\ 147 -4.1\\ 147.5 4.4\\ 148 -3.9\\ 148.5 4.2\\ 149 -4\\ 149.5 3.8\\
150 -4.4\\ 150.5 3.9\\ 151 -4\\ 151.5 4.2\\ 152 -3.5\\ 152.5 4.4\\ 153 -3.8\\ 153.5 4.1\\ 154 -4.3\\ 154.5 3.7\\ 155 -4\\ 155.5 4.5\\ 156 -3.6\\ 156.5 3.9\\ 157 -4.2\\ 157.5 3.8\\ 158 -4.4\\ 158.5 4\\ 159 -3.7\\ 159.5 4.2\\
160 -3.9\\ 160.5 4.3\\ 161 -3.6\\ 161.5 4\\ 162 -4.5\\ 162.5 3.7\\ 163 -4.1\\ 163.5 3.9\\ 164 -4.3\\ 164.5 3.6\\ 165 -4\\ 165.5 4.4\\ 166 -3.8\\ 166.5 4.1\\ 167 -3.5\\ 167.5 4.2\\ 168 -4.4\\ 168.5 3.8\\ 169 -4\\ 169.5 3.7\\
170 -4.2\\ 170.5 4\\ 171 -3.7\\ 171.5 4.4\\ 172 -3.9\\ 172.5 4.1\\ 173 -4.5\\ 173.5 3.8\\ 174 -4\\ 174.5 4.3\\ 175 -3.6\\ 175.5 4.2\\ 176 -4.1\\ 176.5 3.9\\ 177 -4.4\\ 177.5 4\\ 178 -3.8\\ 178.5 4.3\\ 179 -4.1\\ 179.5 3.9\\ 180 -4\\ 180.5 3.8\\ 181 0\\};
% T10 CFON HHE
\addplot[tr] table[row sep=\\,y expr=\thisrow{y}+419.05]{x y\\ 0 0\\ 5 0.4\\ 10 -0.4\\ 15 0.4\\ 20 -0.4\\ 25 0.4\\ 30 -0.4\\ 33 0.3\\ 33.5 -1.5\\ 34 2\\ 35 -2.2\\ 36 1.8\\ 37 -2\\ 38 2.3\\ 39 -1.8\\ 40 2\\ 41 -2.2\\ 42 1.9\\ 43 -2.5\\ 44 3\\ 44.5 -4\\ 45 5\\ 45.5 -4.5\\ 46 3\\ 47 -2.2\\ 48 2\\ 49 -1.8\\ 50 2.1\\ 51 -1.9\\ 52 1.7\\ 53 -2\\ 54 1.8\\ 55 -2.1\\ 56 1.9\\ 57 -2.2\\ 58 2\\ 59 -2.3\\ 60 2.1\\ 61 -2.5\\ 62 2.8\\ 63 -3.2\\ 63.5 3.6\\ 64 -4\\ 64.5 3.8\\ 65 -4.2\\ 65.5 4\\ 66 -3.8\\ 66.5 4.5\\ 67 -5\\ 67.5 5.5\\ 68 -6\\ 68.5 6.5\\ 69 -7\\ 69.5 6.5\\ 70 -7\\ 70.5 6\\ 71 -6.5\\ 71.5 7\\ 72 -6\\ 72.5 6.5\\ 73 -7\\ 73.5 6\\ 74 -6.5\\ 74.5 7\\ 75 -7.5\\ 75.5 7\\ 76 -8\\ 76.5 7.5\\ 77 -8\\ 77.5 8.5\\ 78 -9\\ 78.25 8\\ 78.5 -9.5\\ 78.75 10\\ 79 -10\\ 79.25 9\\ 79.5 -11\\ 79.75 12\\ 80 -12.5\\ 80.25 11\\ 80.5 -12\\ 80.75 10\\ 81 -10\\ 81.25 9\\ 81.5 -9\\ 81.75 8\\ 82 -8\\ 82.5 7\\ 83 -6.5\\ 83.5 6\\ 84 -6.5\\ 84.5 6\\ 85 -5.5\\ 85.5 6\\ 86 -6.5\\ 86.5 6\\ 87 -5.5\\ 87.5 6\\ 88 -6\\ 88.5 5.5\\ 89 -6\\ 89.5 6.5\\ 90 -7\\ 90.5 7.5\\ 91 -8\\ 91.5 8.5\\ 92 -9.5\\ 92.5 9\\ 93 -8\\ 93.5 7\\ 94 -6\\ 94.5 5.5\\ 95 -5\\ 95.5 4.5\\ 96 -4.5\\ 97 4\\ 98 -3.8\\ 99 3.5\\ 100 -3.2\\ 101 3\\ 102 -2.8\\ 103 2.5\\ 104 -2.2\\ 105 2\\ 106 -1.8\\ 107 1.5\\ 108 -1.5\\ 110 1.2\\ 112 -1\\ 114 0.8\\ 117 -0.7\\ 120 0.6\\ 124 -0.5\\ 128 0.5\\ 132 -0.5\\ 136 0.5\\ 140 -0.5\\ 144 0.5\\ 148 -0.5\\ 152 0.5\\ 156 -0.5\\ 160 0.5\\ 164 -0.5\\ 168 0.5\\ 172 -0.5\\ 176 0.5\\ 181 0\\};
% T11 CFON HHN
\addplot[tr] table[row sep=\\,y expr=\thisrow{y}+457]{x y\\ 0 0\\ 5 -0.4\\ 10 0.4\\ 15 -0.4\\ 20 0.4\\ 25 -0.4\\ 30 0.4\\ 33 -0.3\\ 33.5 1.5\\ 34 -2\\ 35 1.8\\ 36 -2.2\\ 37 2\\ 38 -1.7\\ 39 2.1\\ 40 -1.9\\ 41 2.2\\ 42 -2\\ 43 1.8\\ 44 -2.3\\ 45 2.8\\ 45.5 -3.5\\ 46 3.8\\ 46.5 -3.2\\ 47 2.5\\ 48 -2.2\\ 49 2\\ 50 -1.8\\ 51 2.1\\ 52 -1.9\\ 53 2\\ 54 -2.2\\ 55 1.8\\ 56 -2\\ 57 2.2\\ 58 -2.4\\ 59 2.3\\ 60 -2.5\\ 61 2.8\\ 62 -3\\ 63 3.3\\ 63.5 -3.6\\ 64 4\\ 64.5 -4.5\\ 65 5\\ 65.5 -4.5\\ 66 5\\ 66.5 -5.5\\ 67 5\\ 67.5 -5.5\\ 68 6\\ 68.5 -5.5\\ 69 6\\ 69.5 -6.5\\ 70 6\\ 70.5 -7\\ 71 6.5\\ 71.5 -6\\ 72 7\\ 72.5 -7.5\\ 73 8\\ 73.5 -8.5\\ 74 9\\ 74.25 -9\\ 74.5 10\\ 74.75 -11\\ 75 11\\ 75.25 -12\\ 75.5 12\\ 75.75 -11\\ 76 13\\ 76.25 -12\\ 76.5 12\\ 76.75 -10\\ 77 11\\ 77.25 -12.5\\ 77.5 12.5\\ 77.75 -10\\ 78 11\\ 78.25 -9\\ 78.5 10\\ 78.75 -12\\ 79 12\\ 79.25 -13\\ 79.5 13\\ 79.75 -12\\ 80 12.5\\ 80.25 -13.5\\ 80.5 13.5\\ 80.75 -12\\ 81 12\\ 81.25 -11\\ 81.5 11\\ 81.75 -10\\ 82 10\\ 82.5 -9\\ 83 8\\ 83.5 -7.5\\ 84 7\\ 84.5 -7.5\\ 85 7\\ 85.5 -6.5\\ 86 7\\ 86.5 -6\\ 87 6.5\\ 87.5 -6\\ 88 5.5\\ 88.5 -6\\ 89 5.5\\ 89.5 -5\\ 90 5\\ 90.5 -4.5\\ 91 4.5\\ 92 -4\\ 93 4.2\\ 94 -3.8\\ 95 3.5\\ 96 -3.2\\ 97 3\\ 98 -2.8\\ 99 2.6\\ 100 -2.4\\ 101 2.2\\ 102 -2\\ 103 1.8\\ 104 -1.6\\ 105 1.5\\ 107 -1.3\\ 109 1.2\\ 111 -1\\ 113 0.9\\ 116 -0.8\\ 119 0.7\\ 122 -0.7\\ 126 0.6\\ 130 -0.6\\ 134 0.6\\ 138 -0.6\\ 142 0.6\\ 146 -0.6\\ 150 0.6\\ 154 -0.6\\ 158 0.6\\ 162 -0.6\\ 166 0.6\\ 170 -0.6\\ 174 0.6\\ 178 -0.6\\ 181 0\\};
% T12 CFON HHZ
\addplot[tr] table[row sep=\\,y expr=\thisrow{y}+494.95]{x y\\ 0 0\\ 1 1.3\\ 2 -1.4\\ 3 1.2\\ 4 -1.5\\ 5 1.3\\ 6 -1.2\\ 7 1.4\\ 8 -1.3\\ 9 1.5\\ 10 -1.2\\ 11 1.3\\ 12 -1.4\\ 13 1.2\\ 14 -1.5\\ 15 1.3\\ 16 -1.2\\ 17 1.4\\ 18 -1.3\\ 19 1.5\\ 20 -1.2\\ 21 1.3\\ 22 -1.4\\ 23 1.2\\ 24 -1.5\\ 25 1.3\\ 26 -1.2\\ 27 1.4\\ 28 -1.3\\ 29 1.5\\ 30 -1.2\\ 31 1.3\\ 32 -1.4\\ 33 1.6\\ 34 -2.5\\ 35 2.8\\ 36 -2.6\\ 37 2.4\\ 38 -2.8\\ 39 2.5\\ 40 -2.7\\ 41 2.6\\ 42 -2.4\\ 43 2.8\\ 44 -2.5\\ 45 2.7\\ 46 -2.6\\ 47 2.4\\ 48 -2.8\\ 49 2.5\\ 50 -2.6\\ 51 2.4\\ 52 -2.7\\ 53 2.5\\ 54 -2.3\\ 55 2.6\\ 56 -2.4\\ 57 2.5\\ 58 -2.6\\ 59 2.3\\ 60 -2.5\\ 61 2.7\\ 62 -2.4\\ 63 2.6\\ 64 -2.8\\ 65 2.5\\ 66 -2.7\\ 67 2.9\\ 68 -3\\ 69 3.3\\ 70 -3.6\\ 71 3.8\\ 72 -3.5\\ 73 4\\ 74 -3.7\\ 75 4.1\\ 76 -3.8\\ 77 4.2\\ 78 -4\\ 79 4.4\\ 80 -4.8\\ 81 5\\ 82 -4.6\\ 83 4.2\\ 84 -3.8\\ 85 3.5\\ 86 -3\\ 87 2.6\\ 88 -2.2\\ 89 1.8\\ 90 -1.6\\ 91 1.5\\ 92 -1.3\\ 93 1.4\\ 94 -1.2\\ 95 1.5\\ 96 -1.3\\ 97 1.4\\ 98 -1.2\\ 99 1.5\\ 100 -1.3\\ 101 1.4\\ 102 -1.2\\ 103 1.5\\ 104 -1.3\\ 105 1.4\\ 106 -1.2\\ 107 1.5\\ 108 -1.3\\ 109 1.4\\ 110 -1.2\\ 111 1.5\\ 112 -1.3\\ 113 1.4\\ 114 -1.2\\ 115 1.5\\ 116 -1.3\\ 117 1.4\\ 118 -1.2\\ 119 1.5\\ 120 -1.3\\ 121 1.4\\ 122 -1.2\\ 123 1.5\\ 124 -1.3\\ 125 1.4\\ 126 -1.2\\ 127 1.5\\ 128 -1.3\\ 129 1.4\\ 130 -1.2\\ 131 1.5\\ 132 -1.3\\ 133 1.4\\ 134 -1.2\\ 135 1.5\\ 136 -1.3\\ 137 1.4\\ 138 -1.2\\ 139 1.5\\ 140 -1.3\\ 141 1.4\\ 142 -1.2\\ 143 1.5\\ 144 -1.3\\ 145 1.4\\ 146 -1.2\\ 147 1.5\\ 148 -1.3\\ 149 1.4\\ 150 -1.2\\ 151 1.5\\ 152 -1.3\\ 153 1.4\\ 154 -1.2\\ 155 1.5\\ 156 -1.3\\ 157 1.4\\ 158 -1.2\\ 159 1.5\\ 160 -1.3\\ 161 1.4\\ 162 -1.2\\ 163 1.5\\ 164 -1.3\\ 165 1.4\\ 166 -1.2\\ 167 1.5\\ 168 -1.3\\ 169 1.4\\ 170 -1.2\\ 171 1.5\\ 172 -1.3\\ 173 1.4\\ 174 -1.2\\ 175 1.5\\ 176 -1.3\\ 177 1.4\\ 178 -1.2\\ 179 1.5\\ 180 -1.3\\ 181 0\\};
% T13 CLLI HHE
\addplot[tr] table[row sep=\\,y expr=\thisrow{y}+532.9]{x y\\ 0 0\\ 2 0.6\\ 4 -0.7\\ 6 0.5\\ 8 -0.7\\ 10 0.6\\ 12 -0.5\\ 14 0.7\\ 16 -0.6\\ 18 0.5\\ 20 -0.7\\ 22 0.6\\ 24 -0.5\\ 26 0.7\\ 26.6 -1.2\\ 27 1.6\\ 28 -1.8\\ 29 1.5\\ 30 -1.7\\ 31 1.9\\ 32 -1.6\\ 33 1.8\\ 34 -1.5\\ 35 1.7\\ 36 -1.8\\ 37 1.5\\ 38 -1.6\\ 39 1.8\\ 40 -1.7\\ 41 1.5\\ 42 -1.8\\ 43 1.6\\ 44 -1.5\\ 45 1.7\\ 46 -1.6\\ 47 1.8\\ 48 -1.5\\ 49 1.7\\ 50 -1.8\\ 51 1.9\\ 52 -2\\ 53 2.5\\ 53.5 -3\\ 54 3.5\\ 54.5 -3.8\\ 55 4\\ 55.5 -4.2\\ 56 4.5\\ 56.5 -4\\ 57 3.8\\ 57.5 -3.5\\ 58 3.8\\ 58.5 -3.2\\ 59 3.5\\ 59.5 -3.4\\ 60 3\\ 60.5 -3.3\\ 61 3.5\\ 61.5 -3\\ 62 3.2\\ 62.5 -2.8\\ 63 3\\ 64 -2.8\\ 65 2.6\\ 66 -2.4\\ 67 2.2\\ 68 -2\\ 69 2\\ 70 -1.8\\ 71 1.6\\ 72 -1.4\\ 73 1.2\\ 74 -1.1\\ 76 1\\ 78 -0.9\\ 80 0.8\\ 82 -0.7\\ 84 0.6\\ 86 -0.7\\ 88 0.5\\ 90 -0.6\\ 92 0.7\\ 94 -0.5\\ 96 0.6\\ 98 -0.7\\ 100 0.5\\ 102 -0.6\\ 104 0.7\\ 106 -0.5\\ 108 0.6\\ 110 -0.7\\ 112 0.5\\ 114 -0.6\\ 116 0.7\\ 118 -0.5\\ 120 0.6\\ 122 -0.7\\ 124 0.5\\ 126 -0.6\\ 128 0.7\\ 130 -0.5\\ 132 0.6\\ 134 -0.7\\ 136 0.5\\ 138 -0.6\\ 140 0.7\\ 142 -0.5\\ 144 0.6\\ 146 -0.7\\ 148 0.5\\ 150 -0.6\\ 152 0.7\\ 154 -0.5\\ 156 0.6\\ 158 -0.7\\ 160 0.5\\ 162 -0.6\\ 164 0.7\\ 166 -0.5\\ 168 0.6\\ 170 -0.7\\ 172 0.5\\ 174 -0.6\\ 176 0.7\\ 178 -0.5\\ 180 0.6\\ 181 0\\};
% T14 CLLI HHN
\addplot[tr] table[row sep=\\,y expr=\thisrow{y}+570.85]{x y\\ 0 0\\ 2 -0.6\\ 4 0.7\\ 6 -0.5\\ 8 0.7\\ 10 -0.6\\ 12 0.5\\ 14 -0.7\\ 16 0.6\\ 18 -0.5\\ 20 0.7\\ 22 -0.6\\ 24 0.5\\ 26 -0.7\\ 26.6 1\\ 27 -1.3\\ 28 1.5\\ 29 -1.2\\ 30 1.4\\ 31 -1.5\\ 32 1.3\\ 33 -1.4\\ 34 1.2\\ 35 -1.5\\ 36 1.4\\ 37 -1.3\\ 38 1.5\\ 39 -1.2\\ 40 1.4\\ 41 -1.5\\ 42 1.3\\ 43 -1.4\\ 44 1.5\\ 45 -1.3\\ 46 1.4\\ 47 -1.2\\ 48 1.5\\ 49 -1.6\\ 50 1.8\\ 51 -2\\ 51.5 2.5\\ 52 -3\\ 52.5 3.5\\ 53 -4\\ 53.5 4.5\\ 54 -5\\ 54.25 4\\ 54.5 -5.5\\ 54.75 6\\ 55 -6\\ 55.25 5\\ 55.5 -6.5\\ 55.75 7\\ 56 -7\\ 56.25 6\\ 56.5 -6.5\\ 56.75 7\\ 57 -7.5\\ 57.25 6.5\\ 57.5 -8\\ 57.75 7.5\\ 58 -8\\ 58.25 6\\ 58.5 -7.5\\ 58.75 7\\ 59 -7\\ 59.25 5.5\\ 59.5 -6.5\\ 59.75 6.5\\ 60 -7\\ 60.25 5\\ 60.5 -6\\ 60.75 6\\ 61 -6.5\\ 61.25 5\\ 61.5 -6\\ 61.75 5\\ 62 -5.5\\ 62.5 6\\ 63 -5\\ 63.5 5.5\\ 64 -5\\ 64.5 4.5\\ 65 -4\\ 65.5 4\\ 66 -3.5\\ 67 3.5\\ 68 -3.2\\ 69 3\\ 70 -2.8\\ 71 2.6\\ 72 -2.4\\ 73 2.2\\ 74 -2\\ 75 1.9\\ 76 -1.8\\ 77 1.6\\ 78 -1.5\\ 79 1.3\\ 80 -1.1\\ 82 0.9\\ 84 -0.7\\ 86 0.6\\ 88 -0.5\\ 90 0.7\\ 92 -0.6\\ 94 0.5\\ 96 -0.7\\ 98 0.6\\ 100 -0.5\\ 102 0.7\\ 104 -0.6\\ 106 0.5\\ 108 -0.7\\ 110 0.6\\ 112 -0.5\\ 114 0.7\\ 116 -0.6\\ 118 0.5\\ 120 -0.7\\ 122 0.6\\ 124 -0.5\\ 126 0.7\\ 128 -0.6\\ 130 0.5\\ 132 -0.7\\ 134 0.6\\ 136 -0.5\\ 138 0.7\\ 140 -0.6\\ 142 0.5\\ 144 -0.7\\ 146 0.6\\ 148 -0.5\\ 150 0.7\\ 152 -0.6\\ 154 0.5\\ 156 -0.7\\ 158 0.6\\ 160 -0.5\\ 162 0.7\\ 164 -0.6\\ 166 0.5\\ 168 -0.7\\ 170 0.6\\ 172 -0.5\\ 174 0.7\\ 176 -0.6\\ 178 0.5\\ 180 -0.7\\ 181 0\\};
% T15 CLLI HHZ
\addplot[tr] table[row sep=\\,y expr=\thisrow{y}+608.8]{x y\\ 0 0\\ 1 1.6\\ 2 -1.8\\ 3 1.5\\ 4 -1.7\\ 5 1.9\\ 6 -1.6\\ 7 1.7\\ 8 -1.5\\ 9 1.8\\ 10 -1.7\\ 11 1.5\\ 12 -1.8\\ 13 1.6\\ 14 -1.7\\ 15 1.9\\ 16 -1.5\\ 17 1.7\\ 18 -1.8\\ 19 1.6\\ 20 -1.7\\ 21 1.5\\ 22 -1.8\\ 23 1.7\\ 24 -1.6\\ 25 1.8\\ 26 -1.9\\ 27 2\\ 28 -2.1\\ 29 1.9\\ 30 -2\\ 31 2.2\\ 32 -1.9\\ 33 2\\ 34 -2.1\\ 35 1.8\\ 36 -2\\ 37 2.1\\ 38 -1.9\\ 39 2\\ 40 -2.2\\ 41 1.9\\ 42 -2\\ 43 2.1\\ 44 -1.8\\ 45 2\\ 46 -2.1\\ 47 1.9\\ 48 -2\\ 49 2.2\\ 50 -2.3\\ 51 2.5\\ 52 -2.8\\ 53 3\\ 53.5 -3.2\\ 54 3.4\\ 54.5 -3\\ 55 3.5\\ 55.5 -3.3\\ 56 3.6\\ 56.5 -3.4\\ 57 3.8\\ 57.5 -3.5\\ 58 4\\ 58.5 -3.7\\ 59 3.5\\ 59.5 -3.8\\ 60 3.6\\ 60.5 -3.4\\ 61 3.5\\ 61.5 -3.2\\ 62 3.3\\ 62.5 -3\\ 63 3.2\\ 64 -2.9\\ 65 2.8\\ 66 -2.6\\ 67 2.5\\ 68 -2.3\\ 69 2.1\\ 70 -1.9\\ 71 1.8\\ 72 -1.8\\ 73 1.5\\ 74 -1.7\\ 75 1.9\\ 76 -1.6\\ 77 1.7\\ 78 -1.5\\ 79 1.8\\
80 -1.7\\ 81 1.6\\ 82 -1.8\\ 83 1.5\\ 84 -1.7\\ 85 1.9\\ 86 -1.6\\ 87 1.7\\ 88 -1.5\\ 89 1.8\\ 90 -1.7\\ 91 1.6\\ 92 -1.8\\ 93 1.5\\ 94 -1.7\\ 95 1.9\\ 96 -1.6\\ 97 1.7\\ 98 -1.5\\ 99 1.8\\ 100 -1.7\\ 101 1.6\\ 102 -1.8\\ 103 1.5\\ 104 -1.7\\ 105 1.9\\ 106 -1.6\\ 107 1.7\\ 108 -1.5\\ 109 1.8\\ 110 -1.7\\ 111 1.6\\ 112 -1.8\\ 113 1.5\\ 114 -1.7\\ 115 1.9\\ 116 -1.6\\ 117 1.7\\ 118 -1.5\\ 119 1.8\\ 120 -1.7\\ 121 1.6\\ 122 -1.8\\ 123 1.5\\ 124 -1.7\\ 125 1.9\\ 126 -1.6\\ 127 1.7\\ 128 -1.5\\ 129 1.8\\ 130 -1.7\\ 131 1.6\\ 132 -1.8\\ 133 1.5\\ 134 -1.7\\ 135 1.9\\ 136 -1.6\\ 137 1.7\\ 138 -1.5\\ 139 1.8\\ 140 -1.7\\ 141 1.6\\ 142 -1.8\\ 143 1.5\\ 144 -1.7\\ 145 1.9\\ 146 -1.6\\ 147 1.7\\ 148 -1.5\\ 149 1.8\\ 150 -1.7\\ 151 1.6\\ 152 -1.8\\ 153 1.5\\ 154 -1.7\\ 155 1.9\\ 156 -1.6\\ 157 1.7\\ 158 -1.5\\ 159 1.8\\ 160 -1.7\\ 161 1.6\\ 162 -1.8\\ 163 1.5\\ 164 -1.7\\ 165 1.9\\ 166 -1.6\\ 167 1.7\\ 168 -1.5\\ 169 1.8\\ 170 -1.7\\ 171 1.6\\ 172 -1.8\\ 173 1.5\\ 174 -1.7\\ 175 1.9\\ 176 -1.6\\ 177 1.7\\ 178 -1.5\\ 179 1.8\\ 180 -1.7\\ 181 0\\};
% T16 CORG HHE
\addplot[tr] table[row sep=\\,y expr=\thisrow{y}+646.75]{x y\\ 0 0\\ 6 0.3\\ 12 -0.3\\ 18 0.3\\ 21.8 0\\ 22 -2.5\\ 22.5 3.4\\ 23 -3\\ 23.5 3.6\\ 24 -3.2\\ 24.5 2.8\\ 25 -3.5\\ 25.5 3\\ 26 -2.7\\ 26.5 3.2\\ 27 -3\\ 27.5 2.6\\ 28 -3.1\\ 28.5 2.8\\ 29 -2.5\\ 30 3\\ 31 -2.6\\ 32 2.4\\ 33 -2.8\\ 34 2.5\\ 35 -2.2\\ 36 2\\ 37 -2.3\\ 38 1.9\\ 39 -2.1\\ 40 1.8\\ 41 -2\\ 42 2.2\\ 43 -1.8\\ 44 2\\ 45 -2.2\\ 46 2.5\\ 46.5 -3\\ 47 4\\ 47.25 -3\\ 47.5 6\\ 47.75 -7\\ 48 9\\ 48.25 -8\\ 48.5 12\\ 48.75 -10\\ 49 13\\ 49.25 -11\\ 49.5 14.5\\ 49.75 -12\\ 50 12\\ 50.25 -9\\ 50.5 11\\ 50.75 -10\\ 51 10\\ 51.25 -7\\ 51.5 9\\ 51.75 -8\\ 52 8\\ 52.25 -6\\ 52.5 7.5\\ 52.75 -7\\ 53 7\\ 53.5 -7\\ 54 6.5\\ 54.5 -7\\ 55 6\\ 55.5 -6.5\\ 56 5.5\\ 56.5 -5\\ 57 5\\ 57.5 -4.5\\ 58 4\\ 59 -3.5\\ 60 3.4\\ 61 -3\\ 62 3.2\\ 63 -2.8\\ 64 2.5\\ 65 -2.3\\ 66 2\\ 67 -2.5\\ 67.5 3.4\\ 68 -3\\ 68.5 2\\ 69 -1.5\\ 70 1.2\\ 72 -1\\ 74 0.8\\ 77 -0.7\\ 80 0.6\\ 84 -0.5\\ 88 0.5\\ 93 -0.4\\ 98 0.4\\ 104 -0.4\\ 110 0.4\\ 116 -0.4\\ 122 0.4\\ 128 -0.4\\ 134 0.4\\ 140 -0.4\\ 146 0.4\\ 152 -0.4\\ 158 0.4\\ 164 -0.4\\ 170 0.4\\ 176 -0.4\\ 181 0\\};
% T17 CORG HHN
\addplot[tr] table[row sep=\\,y expr=\thisrow{y}+684.7]{x y\\ 0 0\\ 6 -0.3\\ 12 0.3\\ 18 -0.3\\ 21.8 0\\ 22 2.5\\ 22.5 -3.2\\ 23 3.5\\ 23.5 -3\\ 24 3.4\\ 24.5 -2.8\\ 25 3.6\\ 25.5 -3.2\\ 26 3\\ 26.5 -3.4\\ 27 2.8\\ 27.5 -3\\ 28 3.3\\ 28.5 -2.7\\ 29 3\\ 30 -2.8\\ 31 3.2\\ 32 -2.6\\ 33 3\\ 34 -2.7\\ 35 3.3\\ 36 -2.8\\ 37 2.5\\ 38 -2.8\\ 39 2.4\\ 40 -2.6\\ 41 2.2\\ 42 -2\\ 43 2.3\\ 44 -2\\ 45 2.4\\ 46 -2.8\\ 46.5 3.5\\ 47 -4.5\\ 47.25 5\\ 47.5 -6\\ 47.75 7\\ 48 -8\\ 48.25 9\\ 48.5 -11\\ 48.75 10\\ 49 -12.5\\ 49.25 11\\ 49.5 -11\\ 49.75 12.5\\ 50 -12\\ 50.25 9\\ 50.5 -10.5\\ 50.75 11\\ 51 -11\\ 51.25 8\\ 51.5 -9\\ 51.75 8.5\\ 52 -8.5\\ 52.25 7\\ 52.5 -7.5\\ 52.75 8\\ 53 -8\\ 53.5 7\\ 54 -7.5\\ 54.5 7\\ 55 -6.5\\ 55.5 6\\ 56 -6.5\\ 56.5 5.5\\ 57 -6\\ 57.5 5\\ 58 -5.5\\ 58.5 4.5\\ 59 -4.5\\ 59.5 4\\ 60 -4\\ 61 3.4\\ 62 -3.2\\ 63 3\\ 64 -2.8\\ 65 2.5\\ 66 -2.2\\ 67 2\\ 68 -1.8\\ 69 1.5\\ 70 -1.2\\ 72 1\\ 74 -0.8\\ 77 0.7\\ 80 -0.6\\ 84 0.5\\ 88 -0.5\\ 93 0.4\\ 98 -0.4\\ 104 0.4\\ 110 -0.4\\ 116 0.4\\ 122 -0.4\\ 128 0.4\\ 134 -0.4\\ 140 0.4\\ 146 -0.4\\ 152 0.4\\ 158 -0.4\\ 164 0.4\\ 170 -0.4\\ 176 0.4\\ 181 0\\};
% T18 CORG HHZ
\addplot[tr] table[row sep=\\,y expr=\thisrow{y}+722.65]{x y\\ 0 0\\ 6 0.3\\ 12 -0.3\\ 18 0.3\\ 21.8 0\\ 22 -2.8\\ 22.5 3.4\\ 23 -3.2\\ 23.5 3\\ 24 -3.5\\ 24.5 3.2\\ 25 -2.8\\ 25.5 3.3\\ 26 -3\\ 26.5 2.7\\ 27 -3.1\\ 27.5 2.8\\ 28 -2.6\\ 28.5 3\\ 29 -2.5\\ 30 2.4\\ 31 -2.2\\ 32 2.5\\ 33 -2.3\\ 34 2.1\\ 35 -2.4\\ 36 2.2\\ 37 -2\\ 38 2.3\\ 39 -2.1\\ 40 2\\ 41 -2.2\\ 42 1.9\\ 43 -2.1\\ 44 2\\ 45 -2.2\\ 46 2.4\\ 46.5 -3\\ 47 4\\ 47.25 -4\\ 47.5 6\\ 47.75 -6\\ 48 8\\ 48.25 -9\\ 48.5 11\\ 48.75 -12\\ 49 14.5\\ 49.25 -11\\ 49.5 11\\ 49.75 -12\\ 50 12\\ 50.25 -9\\ 50.5 10\\ 50.75 -8\\ 51 9\\ 51.25 -7\\ 51.5 7\\ 51.75 -6\\ 52 6.5\\ 52.25 -5\\ 52.5 6\\ 52.75 -5.5\\ 53 6.5\\ 53.5 -5.5\\ 54 6\\ 54.5 -5\\ 55 5.5\\ 55.5 -5\\ 56 4.5\\ 56.5 -5\\ 57 4.5\\ 57.5 -4\\ 58 4\\ 59 -3.5\\ 60 3\\ 61 -2.8\\ 62 2.5\\ 63 -2.3\\ 64 2\\ 65 -1.8\\ 66 1.6\\ 67 -1.4\\ 68 1.2\\ 69 -1\\ 71 0.8\\ 74 -0.6\\ 78 0.5\\ 83 -0.5\\ 88 0.4\\ 94 -0.4\\ 100 0.4\\ 106 -0.4\\ 112 0.4\\ 118 -0.4\\ 124 0.4\\ 130 -0.4\\ 136 0.4\\ 142 -0.4\\ 148 0.4\\ 154 -0.4\\ 160 0.4\\ 166 -0.4\\ 172 0.4\\ 178 -0.4\\ 181 0\\};
% T19 CSOR HHE
\addplot[tr] table[row sep=\\,y expr=\thisrow{y}+760.6]{x y\\ 0 0\\ 6 0.3\\ 12 -0.3\\ 18 0.2\\ 18.5 -2.5\\ 19 3.5\\ 19.5 -4\\ 20 3.6\\ 20.5 -4.2\\ 21 3.8\\ 21.5 -3.5\\ 22 4\\ 22.5 -3.8\\ 23 3.4\\ 23.5 -4\\ 24 5\\ 24.5 -7\\ 25 6.5\\ 25.5 -4\\ 26 3.4\\ 26.5 -3.6\\ 27 3.2\\ 27.5 -3.5\\ 28 3.3\\ 28.5 -3\\ 29 3.5\\ 29.5 -3.2\\ 30 3\\ 30.5 -3.4\\ 31 3.1\\ 32 -3.3\\ 33 3\\ 34 -2.8\\ 35 3.2\\ 36 -2.9\\ 37 3\\ 38 -3.2\\ 39 2.8\\ 40 -3\\ 41 3.3\\ 41.5 -4\\ 42 6\\ 42.25 -8\\ 42.5 10\\ 42.75 -12\\ 43 14\\ 43.25 -15\\ 43.5 17\\ 43.75 -14\\ 44 16\\ 44.25 -13\\ 44.5 15\\ 44.75 -17\\ 45 17\\ 45.25 -12\\ 45.5 14\\ 45.75 -15\\ 46 15\\ 46.25 -11\\ 46.5 13\\ 46.75 -14\\ 47 14\\ 47.25 -10\\ 47.5 12\\ 47.75 -11\\ 48 11\\ 48.25 -9\\ 48.5 10\\ 48.75 -10\\ 49 9\\ 49.25 -8\\ 49.5 10\\ 49.75 -9\\ 50 8.5\\ 50.5 -9\\ 51 8\\ 51.5 -8.5\\ 52 7.5\\ 52.5 -7\\ 53 7.5\\ 53.5 -6.5\\ 54 6\\ 54.5 -5.5\\ 55 5\\ 55.5 -5\\ 56 4.5\\ 56.5 -4.5\\ 57 4\\ 58 -3.8\\ 59 3.5\\ 60 -3.3\\ 61 3\\ 62 -2.8\\ 63 3\\ 64 -4\\ 64.5 5\\ 65 -3.5\\ 66 2.5\\ 67 -2\\ 68 1.8\\ 69 -1.6\\ 70 1.5\\ 72 -1.4\\ 74 1.3\\ 76 -1.2\\ 78 1.1\\ 80 -1\\ 83 0.9\\ 86 -0.8\\ 89 0.8\\ 92 -0.7\\ 96 0.6\\ 100 -0.5\\ 105 0.5\\ 110 -0.5\\ 115 0.5\\ 120 -0.5\\ 125 0.5\\ 130 -0.5\\ 135 0.5\\ 140 -0.5\\ 145 0.5\\ 150 -0.5\\ 155 0.5\\ 160 -0.5\\ 165 0.5\\ 170 -0.5\\ 175 0.5\\ 181 0\\};
% T20 CSOR HHN
\addplot[tr] table[row sep=\\,y expr=\thisrow{y}+798.55]{x y\\ 0 0\\ 6 -0.3\\ 12 0.3\\ 18 -0.2\\ 18.5 2\\ 19 -2.7\\ 19.5 2.5\\ 20 -2.8\\ 20.5 2.6\\ 21 -2.4\\ 21.5 2.8\\ 22 -2.5\\ 22.5 2.7\\ 23 -2.6\\ 23.5 2.4\\ 24 -2.8\\ 24.5 2.5\\ 25 -2.6\\ 26 2.4\\ 27 -2.5\\ 28 2.3\\ 29 -2.4\\ 30 2.2\\ 31 -2.5\\ 32 2.3\\ 33 -2.1\\ 34 2.4\\ 35 -2.2\\ 36 2\\ 37 -2.2\\ 38 2.1\\ 39 -2.3\\ 40 2.4\\ 41 -2.6\\ 41.5 3\\ 42 -4\\ 42.25 5\\ 42.5 -6\\ 42.75 8\\ 43 -9\\ 43.25 10\\ 43.5 -11\\ 43.75 12\\ 44 -12.5\\ 44.25 9\\ 44.5 -10\\ 44.75 11\\ 45 -11\\ 45.25 8\\ 45.5 -9\\ 45.75 8.5\\ 46 -8\\ 46.25 7\\ 46.5 -7.5\\ 46.75 6.5\\ 47 -7\\ 47.5 7.5\\ 48 -6.5\\ 48.5 7\\ 49 -6.5\\ 49.5 6\\ 50 -6.5\\ 50.5 5.5\\ 51 -6\\ 51.5 5.5\\ 52 -5\\ 52.5 5\\ 53 -4.5\\ 53.5 4.5\\ 54 -4\\ 54.5 3.8\\ 55 -3.5\\ 56 3\\ 57 -2.8\\ 58 2.7\\ 59 -2.5\\ 60 2.6\\ 61 -2.4\\ 62 2.2\\ 63 -2\\ 64 1.8\\ 65 -1.6\\ 66 1.5\\ 68 -1.4\\ 70 1.3\\ 72 -1.2\\ 74 1.1\\ 76 -1\\ 78 0.9\\ 80 -0.8\\ 83 0.7\\ 86 -0.6\\ 90 0.5\\ 95 -0.5\\ 100 0.5\\ 105 -0.5\\ 110 0.5\\ 115 -0.5\\ 120 0.5\\ 125 -0.5\\ 130 0.5\\ 135 -0.5\\ 140 0.5\\ 145 -0.5\\ 150 0.5\\ 155 -0.5\\ 160 0.5\\ 165 -0.5\\ 170 0.5\\ 175 -0.5\\ 181 0\\};
% T21 CSOR HHZ
\addplot[tr] table[row sep=\\,y expr=\thisrow{y}+836.5]{x y\\ 0 0\\ 6 0.3\\ 12 -0.3\\ 18 0.2\\ 18.5 -3\\ 19 4\\ 19.5 -4.2\\ 20 3.8\\ 20.5 -4\\ 21 3.5\\ 21.5 -4.2\\ 22 3.6\\ 22.5 -3.8\\ 23 4\\ 23.5 -5\\ 24 7.5\\ 24.5 -6\\ 25 4\\ 25.5 -3\\ 26 2.6\\ 26.5 -2.4\\ 27 2.5\\ 27.5 -2.3\\ 28 2.4\\ 29 -2.2\\ 30 2.5\\ 31 -2.3\\ 32 2.1\\ 33 -2.4\\ 34 2.2\\ 35 -2\\ 36 2.3\\ 37 -2.1\\ 38 2\\ 39 -2.2\\ 40 2\\ 41 -2.3\\ 42 2.5\\ 42.5 -3.5\\ 43 6\\ 43.25 -9\\ 43.5 12\\ 43.75 -11\\ 44 13\\ 44.25 -10\\ 44.5 9\\ 44.75 -8\\ 45 7\\ 45.25 -7\\ 45.5 6.5\\ 45.75 -6\\ 46 6\\ 46.5 -5.5\\ 47 6\\ 47.5 -5\\ 48 5.5\\ 48.5 -5\\ 49 4.5\\ 49.5 -5\\ 50 4.5\\ 50.5 -4\\ 51 4.2\\ 51.5 -3.8\\ 52 3.5\\ 53 -3.2\\ 54 3\\ 55 -2.7\\ 56 2.5\\ 57 -2.3\\ 58 2.1\\ 59 -2\\ 60 1.8\\ 61 -1.7\\ 62 1.5\\ 63 -1.4\\ 64 1.3\\ 65 -1.2\\ 66 1.8\\ 66.5 -1.5\\ 67 1\\ 69 -0.8\\ 72 0.7\\ 75 -0.6\\ 79 0.5\\ 84 -0.5\\ 89 0.5\\ 95 -0.4\\ 101 0.4\\ 107 -0.4\\ 113 0.4\\ 119 -0.4\\ 125 0.4\\ 131 -0.4\\ 137 0.4\\ 143 -0.4\\ 149 0.4\\ 155 -0.4\\ 161 0.4\\ 167 -0.4\\ 173 0.4\\ 179 -0.4\\ 181 0\\};
\end{axis}
\end{tikzpicture}
\end{document}
